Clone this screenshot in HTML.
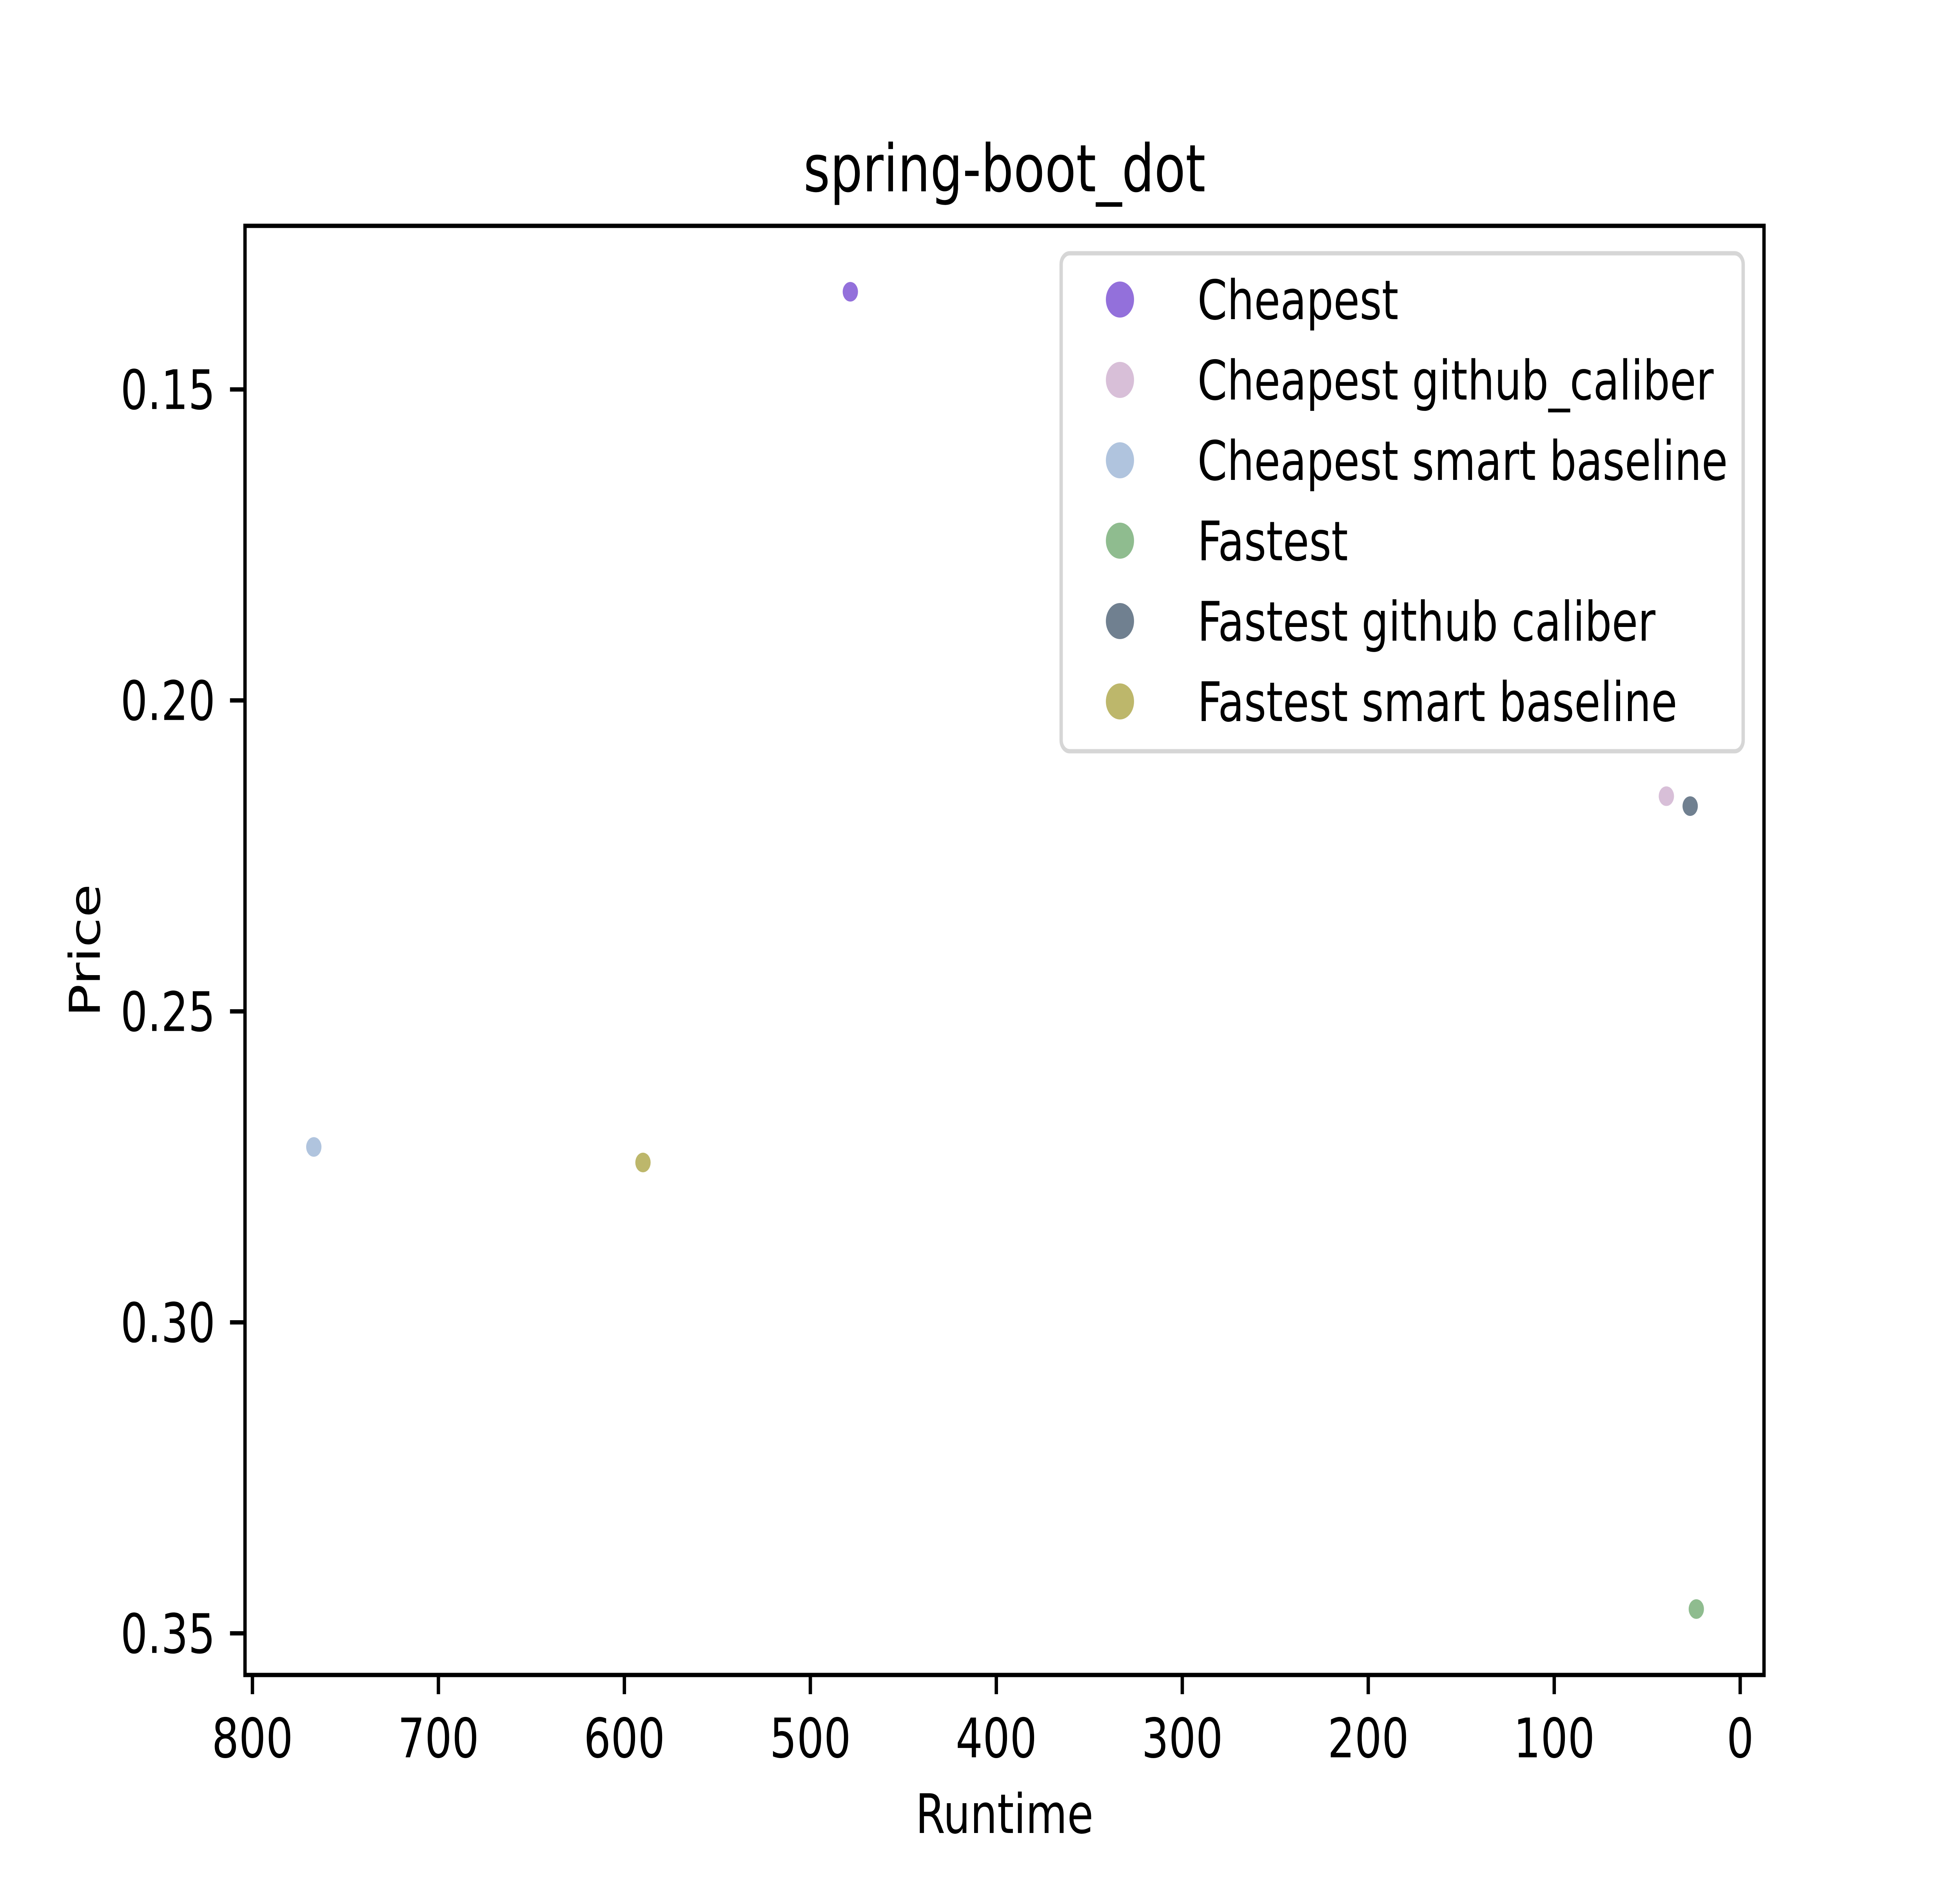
<!DOCTYPE html>
<html><head><meta charset="utf-8"><style>
html,body{margin:0;padding:0;background:#fff;width:100%;height:100%;overflow:hidden;}
svg{display:block;width:100vw;height:100vh;font-family:"DejaVu Sans","Liberation Sans",sans-serif;}
</style></head><body>
<svg id="chart" viewBox="0 0 6400 4800" preserveAspectRatio="none" xmlns="http://www.w3.org/2000/svg">
<rect width="6400" height="4800" fill="#fff"/>
<text x="3280" y="488" font-size="167" text-anchor="middle">spring-boot_dot</text>
<g id="marks"></g>
<g id="axes"></g>
<rect x="800" y="576" width="4960" height="3696" fill="none" stroke="#000" stroke-width="11"/>
<text x="3280" y="4675" font-size="139" text-anchor="middle">Runtime</text>
<text x="0" y="0" font-size="139" text-anchor="middle" transform="translate(326,2424) rotate(-90)">Price</text>
<g id="legend">
<rect x="3465" y="646" width="2227" height="1270" rx="28" fill="#fff" fill-opacity="0.8" stroke="#d6d6d6" stroke-width="11"/>
</g>
</svg>
<script>
const categories = ["Cheapest","Cheapest github_caliber","Cheapest smart baseline","Fastest","Fastest github caliber","Fastest smart baseline"];
const runtimes = [478.5, 39.7, 767, 23.6, 26.9, 590];
const prices = [0.1343, 0.2154, 0.2718, 0.3461, 0.2170, 0.2743];
const colors = ["#9370DB","#D8BFD8","#B0C4DE","#8FBC8F","#708090","#BDB76B"];
const xTicks = [800,700,600,500,400,300,200,100,0];
const yTicks = [0.15,0.20,0.25,0.30,0.35];
const yTickLabels = ["0.15","0.20","0.25","0.30","0.35"];

const NS = "http://www.w3.org/2000/svg";
const L=800,R=5760,T=576,B=4272;
const xMin=804, xMax=-12.8, yMin=0.1237, yMax=0.3567;
function xs(v){return L+(v-xMin)/(xMax-xMin)*(R-L);}
function ys(v){return T+(v-yMin)/(yMax-yMin)*(B-T);}
function mk(tag,attrs){const e=document.createElementNS(NS,tag);for(const k in attrs)e.setAttribute(k,attrs[k]);return e;}

const marks=document.getElementById('marks');
categories.forEach((c,i)=>{
  const el=mk('circle',{cx:xs(runtimes[i]),cy:ys(prices[i]),r:25,fill:colors[i]});
  
  
  marks.appendChild(el);
});

const axes=document.getElementById('axes');
xTicks.forEach(t=>{
  const x=xs(t);
  const ln=mk('line',{x1:x,x2:x,y1:B,y2:B+49,stroke:'#000','stroke-width':11});
  
  
  axes.appendChild(ln);
  const tx=mk('text',{x:x,y:4482,'font-size':139,'text-anchor':'middle'});
  tx.textContent=String(t);
  
  
  axes.appendChild(tx);
});
yTicks.forEach((t,i)=>{
  const y=ys(t);
  const ln=mk('line',{x1:L-49,x2:L,y1:y,y2:y,stroke:'#000','stroke-width':11});
  
  
  axes.appendChild(ln);
  const tx=mk('text',{x:703,y:y+50,'font-size':139,'text-anchor':'end'});
  tx.textContent=yTickLabels[i];
  
  
  axes.appendChild(tx);
});

const legend=document.getElementById('legend');
categories.forEach((c,i)=>{
  const y=764+i*205;
  const g=mk('g',{});
  
  
  g.appendChild(mk('circle',{cx:3657,cy:y,r:46,fill:colors[i]}));
  const tx=mk('text',{x:3910,y:y+50,'font-size':139});
  tx.textContent=c;
  g.appendChild(tx);
  legend.appendChild(g);
});
</script>
</body></html>
